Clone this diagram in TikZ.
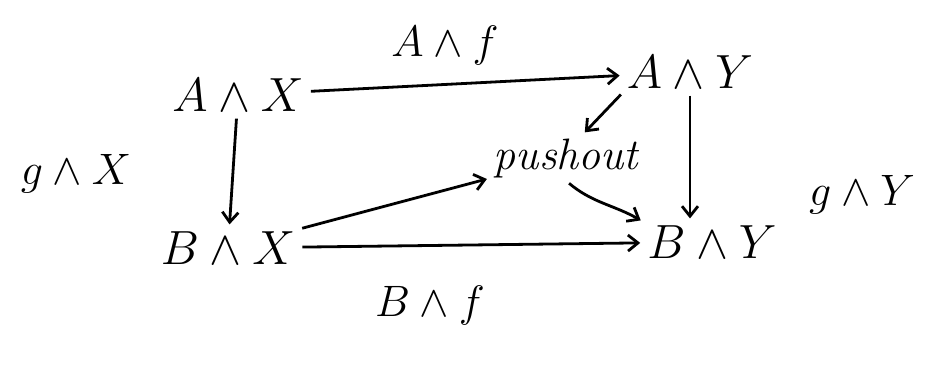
\documentclass[tikz,border=0pt]{standalone}
\usepackage{fix-cm}
\usetikzlibrary{arrows.meta}
\begin{document}
\begin{tikzpicture}[x=1pt,y=-1pt,
  obj/.style={inner sep=3pt,font=\fontsize{48}{52}\selectfont},
  lbl/.style={inner sep=2pt,font=\fontsize{44}{48}\selectfont},
  arr/.style={line width=2.8pt,-{Straight Barb[length=10pt,width=16pt]}, shorten <=4pt, shorten >=4pt}]
\useasboundingbox[fill=white] (0,0) rectangle (930,370);
\node[obj] (AX) at (238,95) {$A\wedge X$};
\node[obj] (AY) at (690,72) {$A\wedge Y$};
\node[obj] (BX) at (228,248) {$B\wedge X$};
\node[obj] (BY) at (712,242) {$B\wedge Y$};
\node[inner sep=3pt,font=\fontsize{44}{48}\selectfont\itshape] (PO) at (566,158) {pushout};
\node[lbl] (Af) at (445,45) {$A\wedge f$};
\node[lbl] (Bf) at (430,305) {$B\wedge f$};
\node[lbl] (gX) at (76,174) {$g\wedge X$};
\node[lbl] (gY) at (862,195) {$g\wedge Y$};
\draw[arr] (AX) -- (AY);
\draw[arr] (AX) -- (BX);
\draw[arr] (BX) -- (BY);
\draw[arr] (AY.south) -- (BY.north -| AY.south);
\draw[arr] (AY.south west) -- ([xshift=16pt]PO.north);
\draw[arr] (BX) -- (PO);
\draw[arr] (PO.south) to[out=-40,in=150] (BY.north west);
\end{tikzpicture}
\end{document}
